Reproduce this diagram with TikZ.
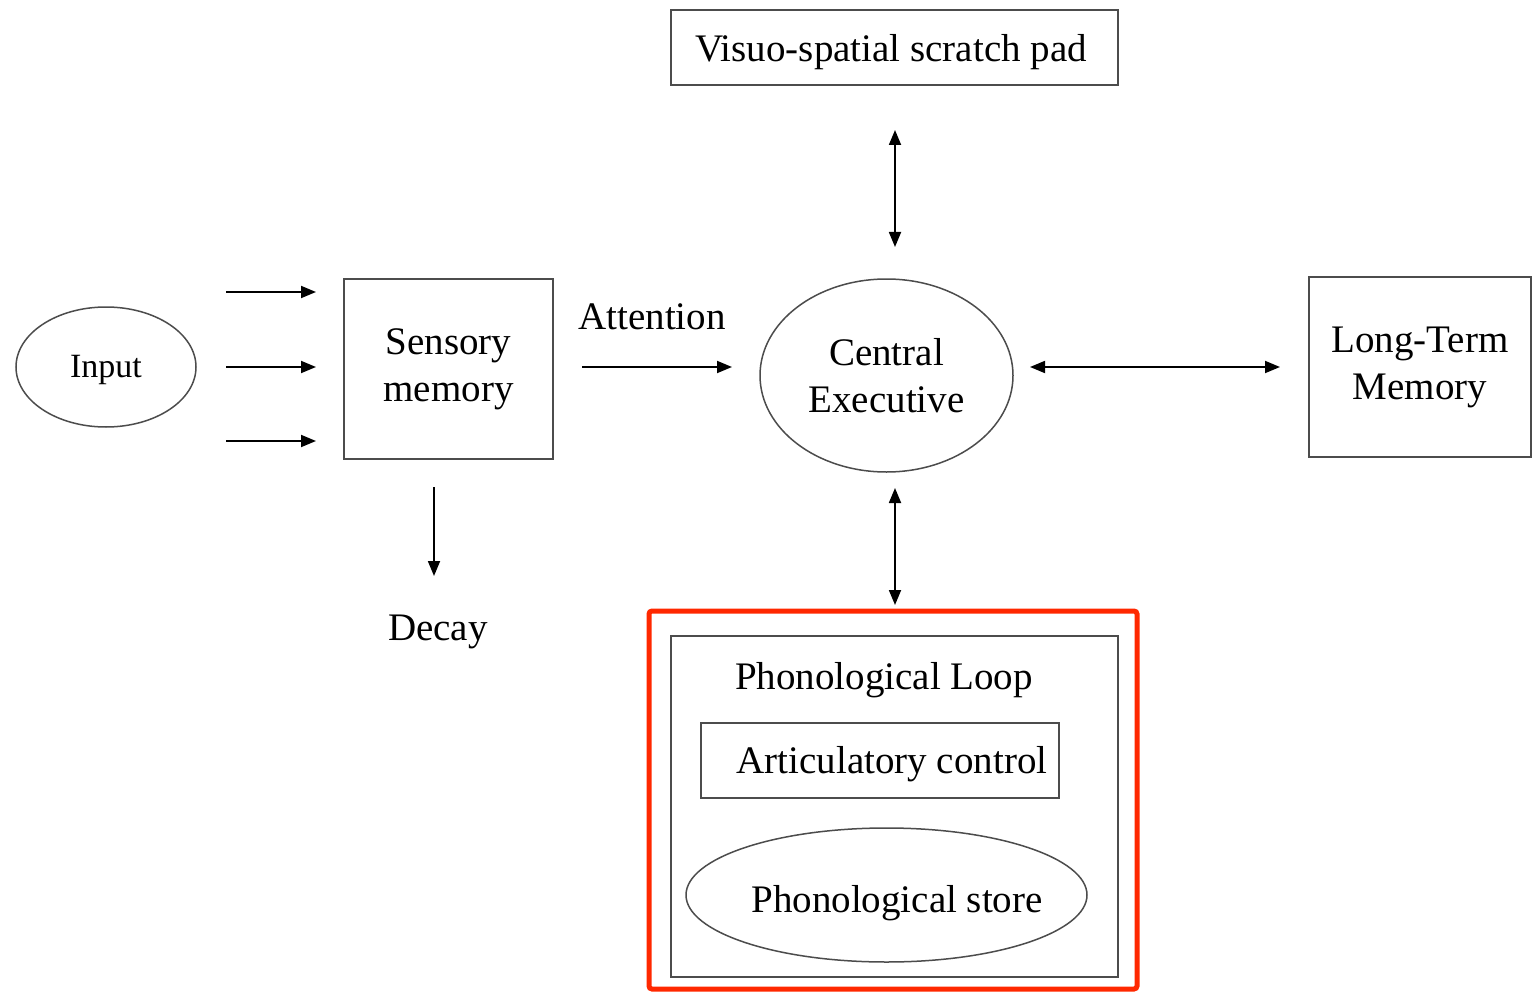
\documentclass[tikz,border=0pt]{standalone}
\usepackage{fontspec}
\setmainfont{Liberation Serif}
\usetikzlibrary{shapes.geometric,arrows.meta}
\begin{document}
\begin{tikzpicture}[x=1pt,y=-1pt,
  box/.style={draw=black!70,line width=1.8pt,rectangle,inner sep=0pt},
  oval/.style={draw=black!70,line width=1.5pt,ellipse,inner sep=0pt},
  lbl/.style={font=\fontsize{39}{47}\selectfont,align=center,inner sep=0pt},
  arr/.style={line width=1.8pt,-{Triangle[length=15pt,width=12pt]}},
  darr/.style={line width=1.8pt,{Triangle[length=15pt,width=12pt]}-{Triangle[length=15pt,width=12pt]}},
  hilite/.style={draw={rgb,255:red,255;green,40;blue,0},line width=5pt,rounded corners=3pt}]
\useasboundingbox (0,0) rectangle (1533,992);
\fill[white] (0,0) rectangle (1533,992);
% nodes
\node[oval,minimum width=180pt,minimum height=120pt] (input) at (106,367) {};
\node[lbl,font=\fontsize{34}{40}\selectfont] (inputtext) at (106,370) {Input};
\node[box,minimum width=209pt,minimum height=180pt,lbl] (sensory) at (448.5,369) {Sensory\\memory};
\node[oval,minimum width=253pt,minimum height=193pt,lbl] (ce) at (886.5,375.5) {Central\\Executive};
\node[box,minimum width=222pt,minimum height=180pt,lbl] (ltm) at (1420,367) {Long-Term\\Memory};
\node[box,minimum width=447pt,minimum height=75pt] (vsp) at (894.5,47.5) {};
\node[lbl] (vsptext) at (891,52) {Visuo-spatial scratch pad};
\node[lbl] (att) at (652,317) {Attention};
\node[lbl] (decay) at (438,632) {Decay};
\node[hilite,minimum width=488pt,minimum height=378pt] (hl) at (893,800) {};
\node[box,minimum width=447pt,minimum height=341pt] (pl) at (894.5,806.5) {};
\node[lbl] (pltitle) at (884,680) {Phonological Loop};
\node[box,minimum width=358pt,minimum height=75pt] (ac) at (880,760.5) {};
\node[lbl] (actext) at (892,764) {Articulatory control};
\node[oval,minimum width=401pt,minimum height=134pt] (ps) at (886.5,895) {};
\node[lbl] (pstext) at (897,903) {Phonological store};
% connector end points
\coordinate (i1s) at (226,292); \coordinate (i1e) at (316,292);
\coordinate (i2s) at (226,367); \coordinate (i2e) at (316,367);
\coordinate (i3s) at (226,441); \coordinate (i3e) at (316,441);
\coordinate (as) at (582,367); \coordinate (ae) at (732,367);
\coordinate (ls) at (1030,367); \coordinate (le) at (1280,367);
\coordinate (us) at (895,130); \coordinate (ue) at (895,247);
\coordinate (bs) at (895,488); \coordinate (be) at (895,605);
\coordinate (ds) at (434,487); \coordinate (de) at (434,576);
% connectors
\draw[arr] (i1s) -- (i1e);
\draw[arr] (i2s) -- (i2e);
\draw[arr] (i3s) -- (i3e);
\draw[arr] (as) -- (ae);
\draw[darr] (ls) -- (le);
\draw[darr] (us) -- (ue);
\draw[darr] (bs) -- (be);
\draw[arr] (ds) -- (de);
\end{tikzpicture}
\end{document}
